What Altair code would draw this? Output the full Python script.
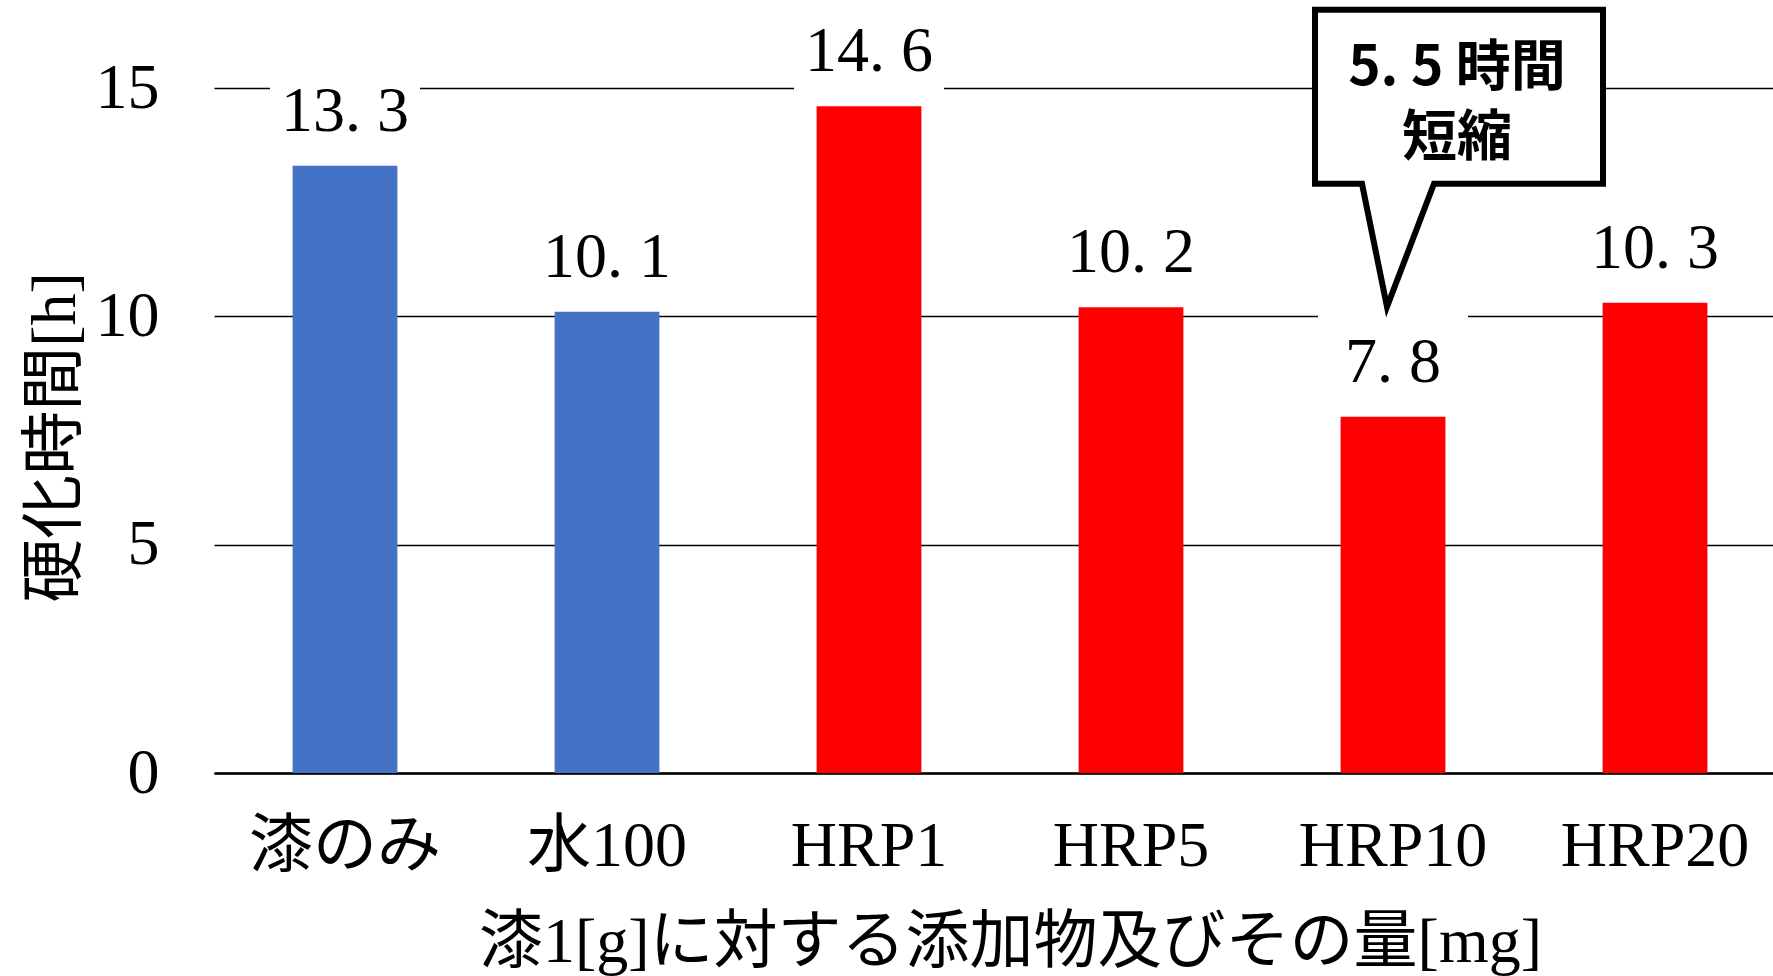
import altair as alt
import pandas as pd

# ---- data ----
categories = ["漆のみ", "水100", "HRP1", "HRP5", "HRP10", "HRP20"]
hours = [13.3, 10.1, 14.6, 10.2, 7.8, 10.3]
groups = ["対照", "対照", "HRP", "HRP", "HRP", "HRP"]
group_names = ["対照", "HRP"]
group_colors = ["#4472C4", "#FF0000"]
y_ticks = [0, 5, 10, 15]
y_title = "硬化時間[h]"
x_title = "漆1[g]に対する添加物及びその量[mg]"
callout_target = "HRP10"
callout_lines = ["5. 5 時間", "短縮"]

df = pd.DataFrame({"cat": categories, "h": hours, "g": groups})

SERIF = "Liberation Serif, Noto Sans CJK JP"
FS = 64

x_enc = alt.X(
    "cat:N",
    sort=categories,
    scale=alt.Scale(range=[0, 1572], paddingInner=0.6, paddingOuter=0.3),
    axis=alt.Axis(
        domain=True, domainColor="black", domainWidth=2.5,
        ticks=False, tickSize=0, grid=False,
        labelFont=SERIF, labelFontSize=FS, labelPadding=92,
        labelBaseline="alphabetic", labelColor="black", labelAngle=0,
        labelOverlap=False, labelLimit=0,
        title=x_title, titleFont=SERIF, titleFontSize=FS,
        titleFontWeight="normal", titleColor="black", titleLimit=0,
        titleX=796, titleY=188, titleBaseline="alphabetic", titleAlign="center",
    ),
)
y_enc = alt.Y(
    "h:Q",
    scale=alt.Scale(domain=[0, 15], nice=False),
    axis=alt.Axis(
        values=y_ticks, grid=True, gridColor="black", gridWidth=1.5,
        domain=False, ticks=False, tickSize=0,
        labelFont=SERIF, labelFontSize=FS, labelPadding=55, labelColor="black",
        title=y_title, titleFont=SERIF, titleFontSize=FS,
        titleFontWeight="normal", titleColor="black", titleLimit=0,
        titleX=-159, titleY=349, titleBaseline="middle",
    ),
)

base = alt.Chart(df)

bars = base.mark_bar().encode(
    x=x_enc,
    y=y_enc,
    color=alt.Color("g:N", scale=alt.Scale(domain=group_names, range=group_colors), legend=None),
)

label_bg = base.mark_point(
    shape="M-1,-0.667H1V0.667H-1Z", size=22500, filled=True,
    color="white", opacity=1, strokeWidth=0, yOffset=-57,
).encode(x=alt.X("cat:N", sort=categories), y="h:Q")

labels = base.transform_calculate(
    lab="replace(format(datum.h, '.1f'), '.', '. ')"
).mark_text(
    font=SERIF, fontSize=FS, baseline="alphabetic", align="center", dy=-35, color="black",
).encode(x=alt.X("cat:N", sort=categories), y="h:Q", text="lab:N")

target = base.transform_filter(alt.datum.cat == callout_target)

callout_box = target.mark_point(
    shape="M-78,-407H210V-233H41L-6,-110L-31,-233H-78Z",
    size=4, filled=True, fill="white", stroke="black", strokeWidth=6,
    opacity=1, strokeJoin="miter",
).encode(x=alt.X("cat:N", sort=categories), y="h:Q")

callout_text = target.mark_text(
    font="Noto Sans CJK JP", fontWeight="bold", fontSize=55, color="black",
    align="center", baseline="middle", dx=64, dy=-349, lineHeight=70,
    text=callout_lines,
).encode(x=alt.X("cat:N", sort=categories), y="h:Q")

chart = alt.layer(
    bars, label_bg, labels, callout_box, callout_text
).properties(
    width=1559, height=685,
    autosize=alt.AutoSizeParams(type="none"),
    padding={"left": 214, "top": 88, "right": 0, "bottom": 203},
    background="white",
).configure_view(strokeWidth=0)

chart.save("out.html", embed_options={"renderer": "svg", "actions": False})
